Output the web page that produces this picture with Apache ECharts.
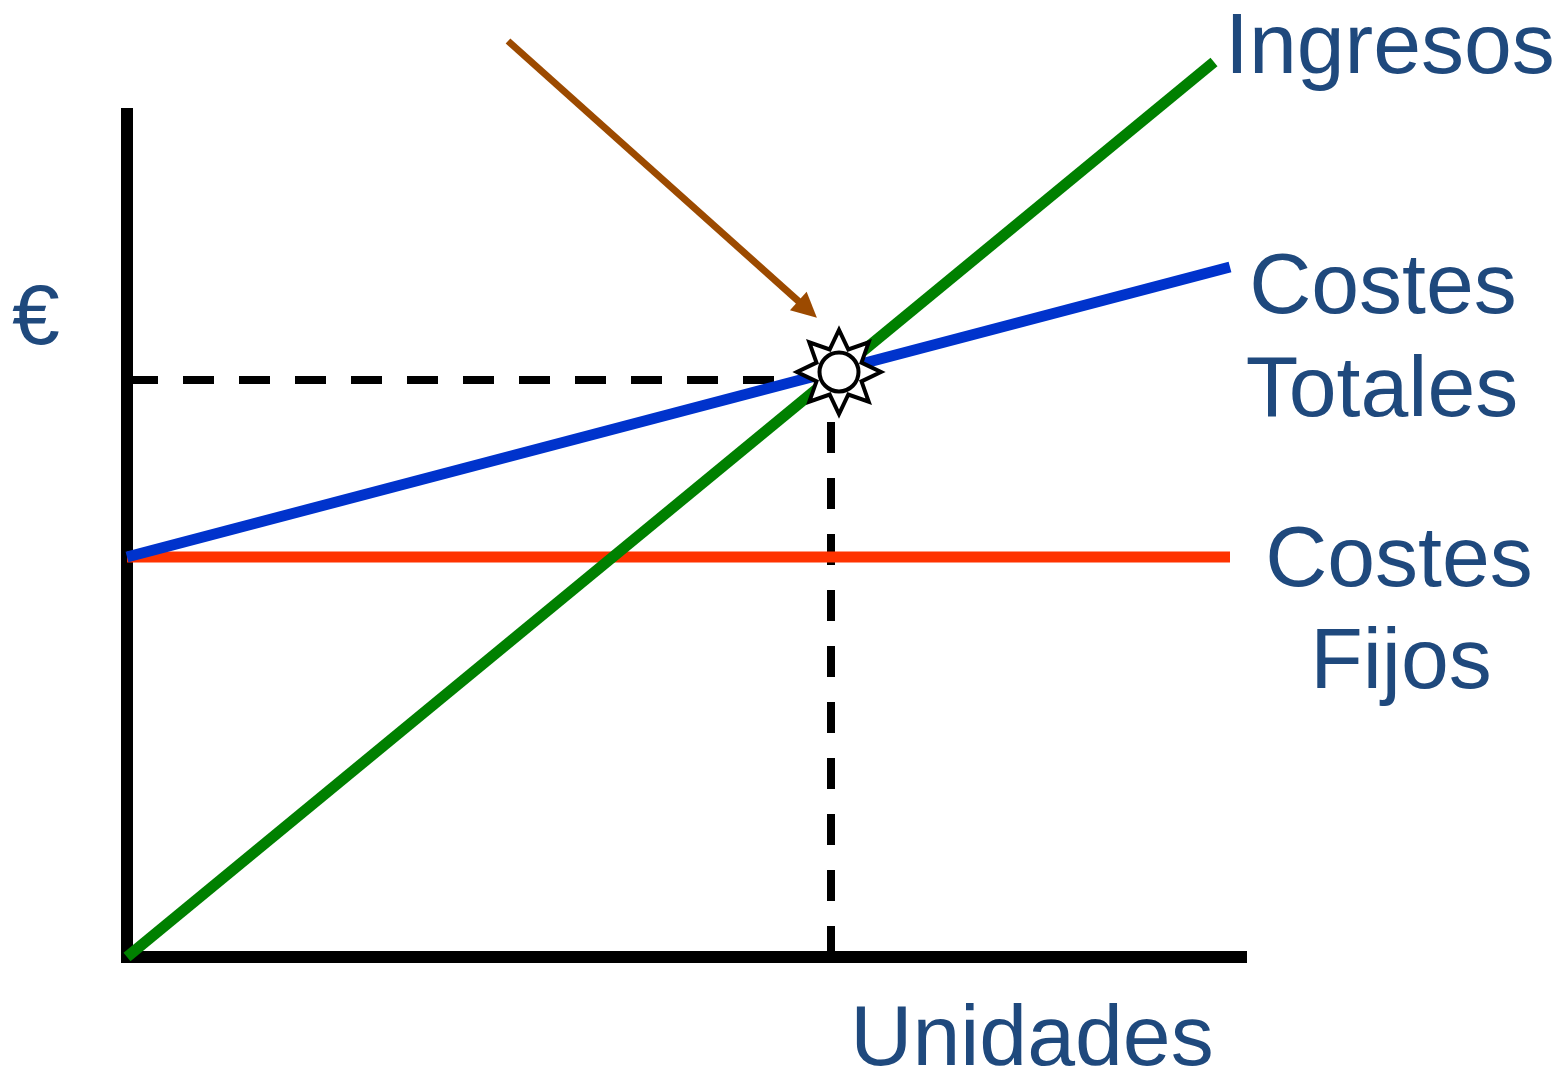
<!DOCTYPE html>
<html>
<head>
<meta charset="utf-8">
<script src="https://cdn.jsdelivr.net/npm/echarts@6/dist/echarts.min.js"></script>
<style>
html,body{margin:0;padding:0;background:#fff;}
#chart{width:1566px;height:1072px;}
</style>
</head>
<body>
<div id="chart"></div>
<script>
// Data (units: x = units sold, y = euros)
var ingresos = [[0, 0], [108.7, 89.5]];
var costesTotales = [[0, 40.0], [110.3, 69.0]];
var costesFijos = [[0, 40.0], [110.3, 40.0]];
var puntoEquilibrio = [[71.2, 58.5]];
var guiaHorizontal = [[0, 57.7], [64.7, 57.7]];
var guiaVertical = [[70.4, 0], [70.4, 53.7]];
var flecha = [[38.1, 91.6], [68.06, 64.77]];
var ejeY = [[0, -0.6], [0, 84.9]];
var ejeX = [[-0.6, 0], [112, 0]];
var etiquetas = ['Ingresos', 'Costes', 'Totales', 'Costes', 'Fijos', '€', 'Unidades'];

var TXT = '#1f497d';
var FONT = '"Liberation Sans", Arial, sans-serif';
var FS = 86;

var starPath = 'path://M100 50 L76.79 61.1 L85.36 85.36 L61.1 76.79 L50 100 L38.9 76.79 L14.64 85.36 L23.21 61.1 L0 50 L23.21 38.9 L14.64 14.64 L38.9 23.21 L50 0 L61.1 23.21 L85.36 14.64 L76.79 38.9 Z';

function lineSeries(data, color, width, z, dash) {
  return {
    type: 'line', data: data, symbol: 'none', clip: false, z: z,
    silent: true, animation: false,
    lineStyle: { color: color, width: width, cap: 'butt', type: dash || 'solid' }
  };
}

function txt(t, x, y, align) {
  return {
    type: 'text', x: x, y: y, z: 100,
    style: { text: t, fill: TXT, font: FS + 'px ' + FONT, align: align, verticalAlign: 'middle' }
  };
}

var chart = echarts.init(document.getElementById('chart'), null, { renderer: 'canvas' });
chart.setOption({
  backgroundColor: '#ffffff',
  animation: false,
  grid: { left: 127, right: 319, top: 7, bottom: 115 },
  xAxis: { type: 'value', min: 0, max: 112, show: false },
  yAxis: { type: 'value', min: 0, max: 95, show: false },
  series: [
    lineSeries(ejeY, '#000000', 12, 1),
    lineSeries(ejeX, '#000000', 12, 1),
    lineSeries(guiaHorizontal, '#000000', 8, 2, [31, 25]),
    lineSeries(guiaVertical, '#000000', 8, 2, [31, 25]),
    lineSeries(costesFijos, '#ff3300', 11, 3),
    lineSeries(costesTotales, '#0033cc', 11, 4),
    lineSeries(ingresos, '#008000', 11, 5),
    {
      type: 'lines', coordinateSystem: 'cartesian2d', z: 6, silent: true,
      symbol: ['none', 'triangle'], symbolSize: [22, 25],
      lineStyle: { color: '#9c4a00', width: 7, opacity: 1, cap: 'butt' },
      data: [{ coords: flecha }]
    },
    {
      type: 'scatter', data: puntoEquilibrio, z: 7, silent: true,
      symbol: starPath, symbolSize: 84,
      itemStyle: { color: '#ffffff', borderColor: '#000000', borderWidth: 4, opacity: 1 }
    },
    {
      type: 'scatter', data: puntoEquilibrio, z: 8, silent: true,
      symbol: 'circle', symbolSize: 39,
      itemStyle: { color: '#ffffff', borderColor: '#000000', borderWidth: 4, opacity: 1 }
    }
  ],
  graphic: [
    txt(etiquetas[0], 1225, 49, 'left'),
    txt(etiquetas[1], 1383, 289, 'center'),
    txt(etiquetas[2], 1382, 392, 'center'),
    txt(etiquetas[3], 1399, 562, 'center'),
    txt(etiquetas[4], 1401, 664, 'center'),
    txt(etiquetas[5], 36, 320, 'center'),
    txt(etiquetas[6], 1032, 1041, 'center')
  ]
});
</script>
</body>
</html>
